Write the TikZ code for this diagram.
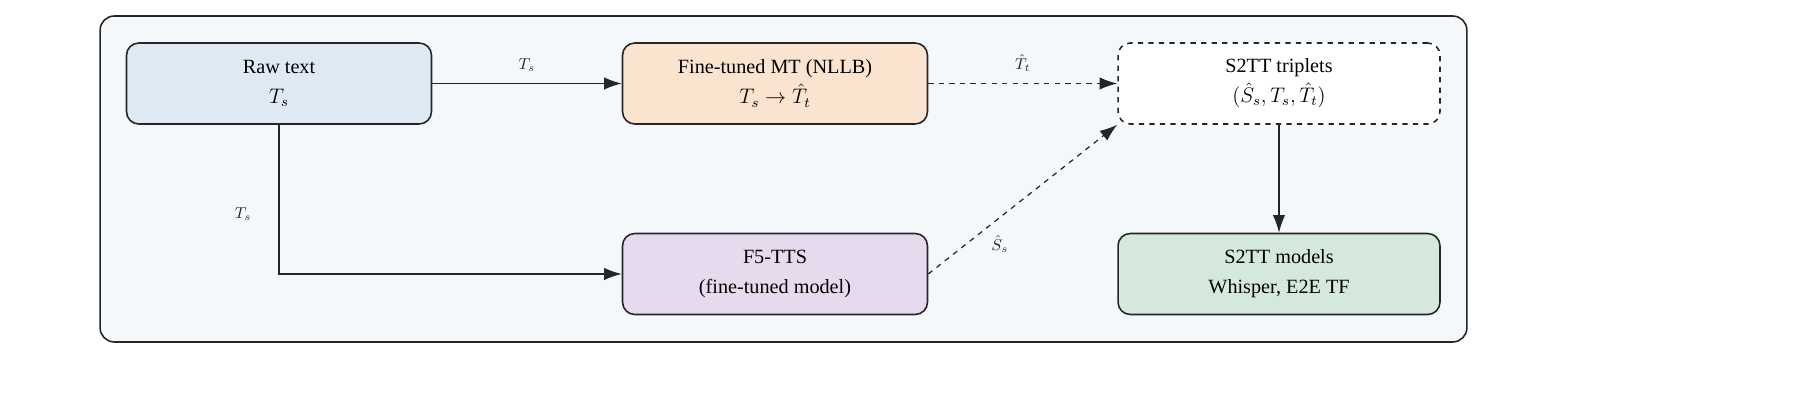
\documentclass[tikz,border=0pt]{standalone}
\usepackage{fontspec}
\setmainfont{Liberation Serif}
\usetikzlibrary{arrows.meta}
\definecolor{bgc}{HTML}{F4F8FA}
\definecolor{cblue}{HTML}{DFE9F3}
\definecolor{corange}{HTML}{FBE4CF}
\definecolor{cpurple}{HTML}{E8DAEE}
\definecolor{cgreen}{HTML}{D5E8DD}
\begin{document}
\begin{tikzpicture}[x=0.02cm,y=-0.02cm,
  box/.style={draw=black!85,line width=0.9pt,rounded corners=7pt,minimum width=6.1cm,minimum height=1.62cm,align=center,font=\fontsize{11.5}{17}\selectfont},
  arr/.style={-{Latex[length=10pt,width=7pt]},line width=0.7pt,black!85},
  lab/.style={font=\fontsize{9}{11}\selectfont}]
\useasboundingbox (0,0) rectangle (1800,411);
\node[draw=black!85,line width=0.9pt,rounded corners=8pt,fill=bgc,minimum width=27.34cm,minimum height=6.52cm] (bg) at (783.5,179) {};
\node[box,fill=cblue] (raw) at (279,83.5) {Raw text\\$T_s$};
\node[box,fill=corange] (mt) at (775,83.5) {Fine-tuned MT (NLLB)\\$T_s\rightarrow\hat{T}_t$};
\node[box,dashed,fill=white,minimum width=6.44cm] (trip) at (1279,83.5) {S2TT triplets\\$(\hat{S}_s,T_s,\hat{T}_t)$};
\node[box,fill=cpurple] (tts) at (775,274) {F5-TTS\\(fine-tuned model)};
\node[box,fill=cgreen,minimum width=6.44cm] (mod) at (1279,274) {S2TT models\\Whisper, E2E TF};
\draw[arr] (raw) -- node[lab,above=3pt]{$T_s$} (mt);
\draw[arr,dashed] (mt) -- node[lab,above=3pt]{$\hat{T}_t$} (trip);
\draw[arr] (raw.south) |- node[lab,pos=0.3,left=12pt]{$T_s$} (tts.west);
\draw[arr,dashed] (tts.east) -- node[lab,pos=0.3,below right=0pt]{$\hat{S}_s$} (trip.south west);
\draw[arr] (trip) -- (mod);
\end{tikzpicture}
\end{document}
